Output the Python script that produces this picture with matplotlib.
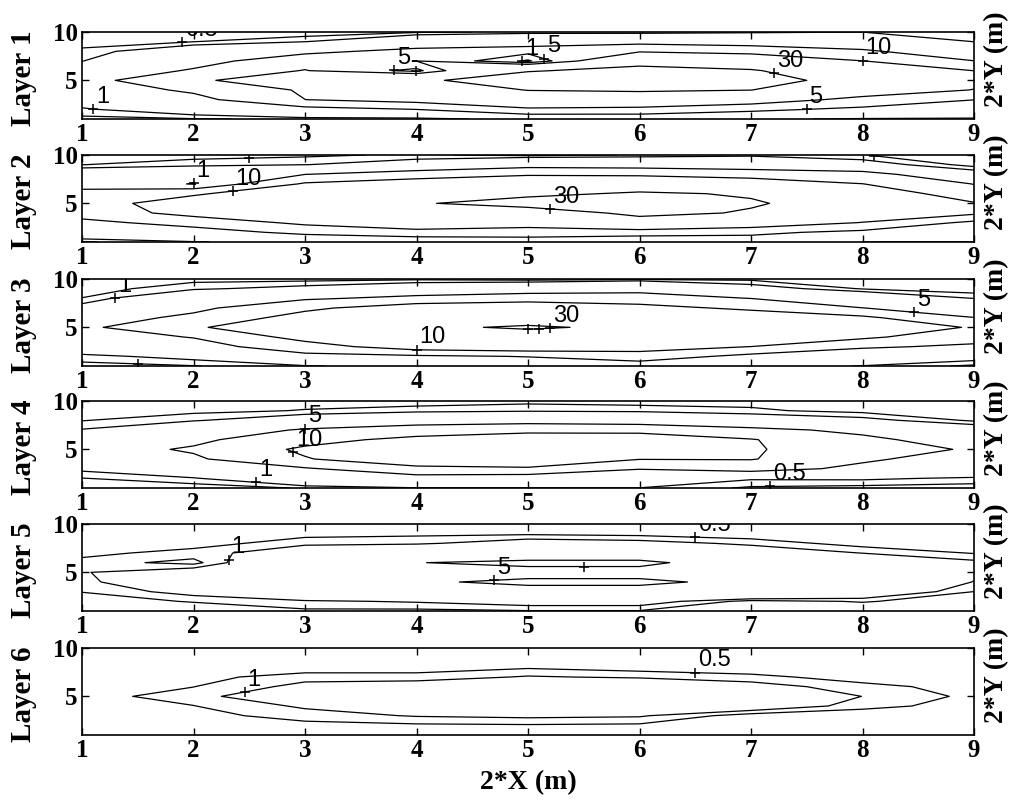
import numpy as np
import matplotlib
matplotlib.use("Agg")
import matplotlib.pyplot as plt
from matplotlib.path import Path
from matplotlib.transforms import ScaledTranslation

# grid: 2*X = 1..9, 2*Y = 1..10
x_vals = [1, 2, 3, 4, 5, 6, 7, 8, 9]
y_vals = [1, 2, 3, 4, 5, 6, 7, 8, 9, 10]
levels = [0.5, 1, 5, 10, 30]

# each inner list is one column (fixed 2*X), values for 2*Y = 1..10
layer1 = [
    [0.33, 0.89, 1.57, 2.29, 3.0, 1.95, 0.96, 0.58, 0.35, 0.2],
    [0.45, 1.73, 3.54, 5.78, 9.7, 5.43, 3.56, 1.96, 0.49, 0.3],
    [0.6, 3.33, 9.98, 10.6, 11.2, 10.28, 7.5, 4.08, 0.98, 0.1],
    [0.55, 5.05, 11.96, 18.5, 25, 3.5, 10.1, 6.15, 2.45, 0.4],
    [1.5, 8.57, 18.9, 30.5, 45, 28.2, 0.3, 6.67, 3.33, 0.6],
    [2.2, 7.78, 18, 32.3, 55, 37.1, 22, 9.23, 3.56, 0.6],
    [1.2, 6.0, 13.3, 30.2, 40, 31.7, 17.7, 7.2, 3.4, 0.8],
    [0.84, 4.04, 8.2, 13.75, 20, 15, 10.1, 5.45, 3.1, 0.98],
    [0.8, 2.9, 5.05, 9.8, 12, 9.95, 5.05, 3, 0.98, 0.6],
]
layer2 = [
    [0.43, 2.2, 4.0, 6.6, 7.5, 5.83, 4.0, 2.0, 0.49, 0.3],
    [0.9, 3.31, 6.43, 12, 13, 9.25, 0.8, 2.56, 0.75, 0.3],
    [1.6, 5.94, 11.2, 15.5, 18, 14.4, 10.7, 4.95, 0.98, 0.38],
    [1.5, 8.0, 14.4, 20, 27.8, 19.2, 13.3, 7.17, 1.52, 0.6],
    [2, 8, 12, 16, 40, 24.8, 14, 9.5, 3.07, 0.3],
    [2.5, 6.5, 18.9, 36, 60, 33, 16, 8.94, 2.88, 0.55],
    [2.67, 6, 14, 28, 32, 28, 16, 6, 4, 0.6],
    [0.98, 3.8, 9.8, 14, 20, 15, 10.1, 6.5, 1.5, 0.52],
    [0.97, 2.4, 3.86, 11, 10.5, 6, 4.9, 1.6, 0.24, 0.1],
]
layer3 = [
    [0.3, 0.79, 1.82, 2.9, 4, 2.7, 1.39, 0.52, 0.2, 0.1],
    [0.47, 1.29, 3.09, 5.21, 9.26, 6.03, 3.93, 2.34, 0.87, 0.3],
    [0.89, 3.63, 7.78, 11.84, 14.9, 12.13, 8.88, 4.38, 1.31, 0.28],
    [1.5, 4.2, 12.8, 19.9, 27, 20.1, 13.2, 6.16, 2.06, 0.36],
    [1.8, 5.2, 14, 22, 32, 22, 14.4, 7.4, 2.7, 0.2],
    [2.2, 7.8, 12.2, 19.4, 26.7, 19.4, 12.2, 6.5, 3.9, 0.3],
    [1.5, 3.5, 9.95, 14.35, 20, 14.35, 8.7, 4.95, 1.5, 0.35],
    [0.95, 2.5, 5.5, 11, 14, 11, 5.05, 2.3, 0.44, 0.2],
    [0.378, 1.49, 4.36, 6.5, 9.5, 5.05, 3, 0.98, 0.1, 0.05],
]
layer4 = [
    [0.3, 0.48, 1.18, 2.09, 3, 2.02, 1.05, 0.47, 0.3, 0.2],
    [0.18, 0.9, 2.56, 4.3, 5.53, 4.02, 2.39, 0.91, 0.34, 0.2],
    [0.55, 2.56, 4.5, 9.65, 10.9, 8.2, 5.44, 1.77, 0.53, 0.3],
    [0.95, 3.0, 8.5, 14, 20, 11.5, 7.05, 3.04, 0.68, 0.3],
    [0.97, 2.33, 9.0, 16, 25, 15, 7.73, 3.57, 0.84, 0.35],
    [0.98, 2.0, 5.2, 10.2, 25, 15, 7.5, 3.18, 0.75, 0.3],
    [0.4, 1.1, 6.5, 10.3, 10.5, 10.3, 6, 1.8, 0.6, 0.3],
    [0.29, 1.13, 4.14, 5.57, 7, 5.82, 4.14, 1.29, 0.3, 0.2],
    [0.2, 0.88, 2.1, 3.31, 4.53, 3.16, 1.78, 0.39, 0.2, 0.1],
]
layer5 = [
    [0.1, 0.2, 0.52, 0.85, 0.95, 0.76, 0.27, 0.15, 0.1, 0.05],
    [0.05, 0.55, 1.3, 1.73, 1.57, 0.3, 0.8, 0.16, 0.1, 0.05],
    [0.39, 0.9, 2.15, 3.0, 3.0, 2.63, 1.37, 0.91, 0.24, 0.1],
    [0.357, 1.07, 2.5, 4.5, 3.5, 4.9, 2.5, 0.87, 0.38, 0.2],
    [0.46, 1.42, 3.5, 5.8, 3.5, 6.0, 2.0, 1.478, 0.39, 0.2],
    [0.46, 1.42, 3.5, 5.8, 3.5, 6.0, 2.0, 1.3, 0.3, 0.2],
    [0.1, 0.28, 3.06, 3.94, 3.0, 2.3, 1.6, 0.85, 0.1, 0.05],
    [0.05, 0.55, 2.0, 3.0, 2.8, 2.0, 0.98, 0.23, 0.1, 0.05],
    [0.1, 0.2, 0.49, 0.955, 1.3, 1.18, 0.46, 0.2, 0.1, 0.05],
]
layer6 = [
    [0.05, 0.1, 0.15, 0.25, 0.3, 0.25, 0.15, 0.1, 0.05, 0.02],
    [0.05, 0.15, 0.3, 0.485, 0.74, 0.49, 0.3, 0.15, 0.08, 0.03],
    [0.1, 0.317, 0.743, 1.1, 1.78, 1.2, 0.79, 0.116, 0.05, 0.02],
    [0.15, 0.403, 1.05, 1.8, 2.5, 1.5, 0.667, 0.28, 0.1, 0.05],
    [0.15, 0.443, 1.157, 2.0, 3.0, 2.0, 1.064, 0.423, 0.15, 0.05],
    [0.15, 0.397, 1.08, 1.9, 2.8, 1.9, 0.9, 0.233, 0.1, 0.05],
    [0.05, 0.1, 0.206, 1.676, 2.0, 1.3, 0.688, 0.05, 0.03, 0.02],
    [0.02, 0.05, 0.1, 0.7, 0.99, 0.7, 0.2, 0.05, 0.02, 0.01],
    [0.01, 0.02, 0.05, 0.25, 0.36, 0.25, 0.05, 0.02, 0.01, 0.01],
]

# contour labels: (level, rough spot, text); '' = only the + mark
labels1 = [(0.5, 1.9, 9.1, "0.5"), (1, 1.1, 2.1, "1"), (5, 3.8, 6.2, "5"),
           (5, 4.0, 6.0, ""), (1, 4.95, 6.95, "1"), (5, 5.15, 7.4, "5"),
           (30, 7.2, 5.3, "30"), (10, 8.0, 7.0, "10"), (5, 7.5, 2.05, "5")]
labels2 = [(0.5, 2.5, 9.45, ""), (1, 2.0, 7.1, "1"), (10, 2.35, 6.3, "10"),
           (30, 5.2, 4.17, "30"), (0.5, 8.1, 9.3, "")]
labels3 = [(1, 1.3, 7.9, "1"), (0.5, 1.5, 1.3, ""), (10, 3.75, 2.88, "10"),
           (30, 5.0, 4.8, ""), (30, 5.1, 4.85, ""), (30, 5.2, 4.85, "30"),
           (5, 8.46, 6.4, "5")]
labels4 = [(5, 3.0, 7.16, "5"), (10, 2.9, 4.9, "10"), (1, 2.56, 1.53, "1"),
           (0.5, 7.17, 1.77, "0.5")]
labels5 = [(1, 2.27, 6.6, "1"), (5, 4.7, 3.85, "5"), (5, 5.5, 5.6, ""),
           (0.5, 6.5, 8.5, "0.5")]
labels6 = [(1, 2.46, 5.35, "1"), (0.5, 6.5, 7.36, "0.5")]

layers = [layer1, layer2, layer3, layer4, layer5, layer6]
all_labels = [labels1, labels2, labels3, labels4, labels5, labels6]
names = ["Layer 1", "Layer 2", "Layer 3", "Layer 4", "Layer 5", "Layer 6"]

plt.rcParams["font.family"] = "Liberation Serif"
plt.rcParams["font.weight"] = "bold"
plt.rcParams["axes.labelweight"] = "bold"
plt.rcParams["axes.linewidth"] = 1.2


def snap(cs, level, px, py):
    # closest point on the drawn contour line (pixel-ish scaling)
    path = cs.get_paths()[levels.index(level)]
    v = path.vertices
    c = path.codes
    sx, sy = 111.5, 9.7
    best, bd = (px, py), 1e18
    for i in range(len(v) - 1):
        if c is not None and c[i + 1] in (Path.MOVETO, Path.CLOSEPOLY):
            continue
        a = np.array([v[i][0] * sx, v[i][1] * sy])
        b = np.array([v[i + 1][0] * sx, v[i + 1][1] * sy])
        p = np.array([px * sx, py * sy])
        ab = b - a
        t = 0.0 if ab @ ab == 0 else np.clip((p - a) @ ab / (ab @ ab), 0, 1)
        q = a + t * ab
        d = (q - p) @ (q - p)
        if d < bd:
            bd, best = d, (q[0] / sx, q[1] / sy)
    return best


fig = plt.figure(figsize=(10.1, 8.01), dpi=100)
tops = [32, 155, 279, 401, 524, 648]

for k in range(6):
    top = tops[k]
    ax = fig.add_axes([82 / 1010, 1 - (top + 87) / 801, 892 / 1010, 87 / 801])
    z = np.array(layers[k]).T
    cs = ax.contour(x_vals, y_vals, z, levels=levels, colors="k", linewidths=0.9)

    off = ScaledTranslation(2 / 72, 1 / 72, fig.dpi_scale_trans)
    for lev, lx, ly, txt in all_labels[k]:
        px, py = snap(cs, lev, lx, ly)
        ax.plot(px, py, marker="+", color="k", ms=7, mew=1.1)
        if txt:
            ax.text(px, py, txt, transform=ax.transData + off, ha="left",
                    va="bottom", fontsize=17, family="Liberation Sans",
                    weight="normal", clip_on=True)

    ax.set_xlim(1, 9)
    ax.set_ylim(1, 10)
    ax.set_xticks(x_vals)
    ax.set_yticks([5, 10])
    ax.tick_params(direction="in", top=True, right=True, length=5, width=1,
                   labelsize=18, pad=3)
    ax.set_ylabel(names[k], fontsize=21)
    ax.yaxis.set_label_coords(-0.05, 0.47)
    ax.text(1.011, 0.69, "2*Y (m)", transform=ax.transAxes, rotation=90,
            ha="left", va="center", fontsize=20)
    if k == 5:
        ax.set_xlabel("2*X (m)", fontsize=20, labelpad=6)

fig.savefig("out.png", dpi=100)
